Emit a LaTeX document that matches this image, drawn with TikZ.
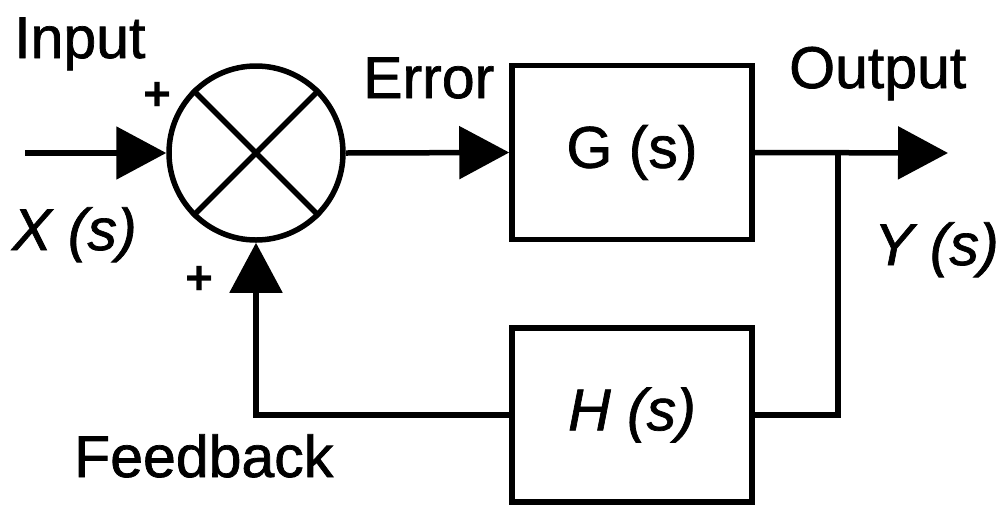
\documentclass[tikz,border=0pt]{standalone}
\usepackage{fontspec}
\setmainfont{Liberation Sans}
\newfontfamily\diagfont[FakeBold=1.2]{Liberation Sans}
\usetikzlibrary{arrows.meta}
\begin{document}
\begin{tikzpicture}[x=1pt,y=-1pt,
  wire/.style={line width=5.5pt},
  arr/.style={wire,-{Triangle[length=50pt,width=52pt]}},
  thickfont/.style={font=\diagfont\fontsize{59}{60}\selectfont},
  blockbox/.style={draw,line width=5.5pt,minimum width=240pt,minimum height=174pt,inner sep=0pt,thickfont},
  sumnode/.style={draw,circle,line width=5.5pt,minimum size=174pt,inner sep=0pt},
  lbl/.style={inner sep=0pt,anchor=base west,thickfont},
  sign/.style={inner sep=0pt,font=\fontsize{48}{48}\selectfont\bfseries}]
\useasboundingbox (0,0) rectangle (1003,507);
% blocks
\node[sumnode] (sum) at (256,153) {};
\draw[wire] (sum.45) -- (sum.225);
\draw[wire] (sum.135) -- (sum.315);
\node[blockbox] (G) at (632,152.5) {G (s)};
\node[blockbox] (H) at (632,415) {\itshape H (s)};
% coordinates
\coordinate (in) at (25,153);
\coordinate (br) at (838,153);
\coordinate (out) at (948,153);
% connectors
\draw[arr] (in) -- (sum.west);
\draw[arr] (sum.east) -- (G.west);
\draw[arr] (G.east) -- (out);
\draw[wire] (br) |- (H.east);
\draw[arr] (H.west) -| (sum.south);
% labels
\node[lbl] (linput) at (14,58) {Input};
\node[lbl] (lx) at (12,250) {\itshape X (s)};
\node[lbl] (lerr) at (363,98) {Error};
\node[lbl] (lout) at (789,88) {Output};
\node[lbl] (ly) at (874,265) {\itshape Y (s)};
\node[lbl] (lfb) at (74,477) {Feedback};
\node[sign] (p1) at (158,96) {+};
\node[sign] (p2) at (200,280) {+};
\end{tikzpicture}
\end{document}
